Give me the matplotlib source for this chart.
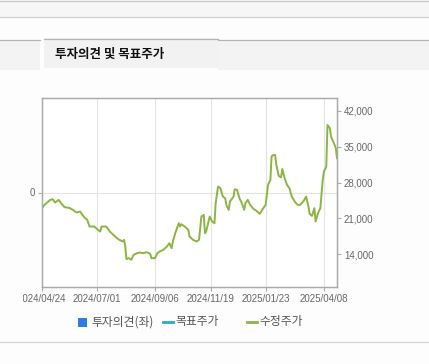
import matplotlib.pyplot as plt
from matplotlib.patches import Rectangle
from matplotlib.lines import Line2D
from matplotlib.transforms import Bbox, TransformedBbox

plt.rcParams['font.family'] = ['Liberation Sans', 'Noto Sans CJK KR']

W, H = 429, 364

# trading-day index and adjusted close price
days = [0, 2, 7, 9, 11, 14, 16, 19, 23, 26, 29, 32, 35, 38, 40, 44, 47, 49, 50, 54,
        57, 60, 63, 65, 68, 69, 70, 71, 73, 75, 77, 80, 82, 85, 88, 91, 92, 95, 97, 99,
        102, 105, 107, 109, 110, 112, 115, 116, 117, 120, 123, 124, 127, 130, 132, 134,
        136, 137, 138, 141, 143, 145, 146, 148, 150, 152, 154, 155, 157, 158, 161, 162,
        164, 166, 168, 170, 171, 173, 175, 178, 180, 183, 186, 188, 190, 192, 193, 194,
        196, 197, 199, 201, 202, 204, 206, 208, 210, 213, 215, 217, 220, 222, 224, 225,
        227, 229, 230, 232, 234, 236, 237, 239, 240, 242, 243, 244, 246, 247, 248]
price = [22970, 23620, 24600, 24730, 24080, 24600, 23950, 23165, 23035, 22645, 22125,
         22320, 21340, 20690, 19385, 19385, 18735, 18410, 19385, 19385, 18410, 17760,
         17105, 16780, 16455, 16780, 15475, 13000, 13195, 12870, 13845, 14170, 14300,
         14170, 14370, 14040, 13195, 13195, 14170, 14500, 14825, 15475, 16130, 15150,
         16455, 18080, 20040, 19385, 19840, 19385, 18735, 17430, 16780, 16455, 16780,
         21340, 21665, 18080, 18410, 21340, 20360, 20040, 23950, 27205, 26880, 25250,
         24925, 23620, 22645, 24275, 25250, 26685, 26555, 24925, 23950, 22645, 23950,
         24600, 23620, 22775, 22515, 21865, 22970, 23620, 27530, 28510, 33070, 33330,
         33395, 31440, 29290, 29030, 30660, 28835, 27530, 26880, 25250, 24080, 23620,
         23620, 24405, 25250, 23295, 21865, 21470, 22970, 20365, 21995, 22970, 28510,
         30140, 31115, 39265, 38610, 36980, 36460, 35350, 34700, 32745]

tick_days = [0, 46, 95, 142, 188, 237]
tick_labels = ['2024/04/24', '2024/07/01', '2024/09/06', '2024/11/19', '2025/01/23', '2025/04/08']
price_ticks = [14000, 21000, 28000, 35000, 42000]

legend_labels = ['투자의견(좌)', '목표주가', '수정주가']
legend_colors = ['#2f7de1', '#25aebf', '#8bb543']


def fx(x):
    return x / W


def fy(y):
    return 1 - y / H


fig = plt.figure(figsize=(W / 100, H / 100), dpi=100)
fig.patch.set_facecolor('#fdfdfd')

# page header bands
fig.patches.append(Rectangle((0, fy(17)), 1, 17 / H, transform=fig.transFigure,
                             facecolor='#f6f6f6', edgecolor='none'))
fig.patches.append(Rectangle((0, fy(70)), 1, 30 / H, transform=fig.transFigure,
                             facecolor='#f3f3f3', edgecolor='none'))
fig.patches.append(Rectangle((fx(40), fy(70)), 4 / W, 30 / H, transform=fig.transFigure,
                             facecolor='#fdfdfd', edgecolor='none'))
fig.patches.append(Rectangle((fx(44), fy(68)), 174 / W, 30 / H, transform=fig.transFigure,
                             facecolor='#f2f2f2', edgecolor='none'))
fig.patches.append(Rectangle((fx(44), fy(70)), 174 / W, 2 / H, transform=fig.transFigure,
                             facecolor='#fdfdfd', edgecolor='none'))
for y0, x0, x1, c in [(1, 0, W, '#c8c8c8'), (17, 0, W, '#cfcfcf'), (40, 0, 40, '#b4b4b4'),
                      (40, 218, W, '#b4b4b4'), (38.5, 44, 218, '#b4b4b4'), (341.5, 0, W, '#d4d4d4')]:
    fig.lines.append(Line2D([fx(x0), fx(x1)], [fy(y0), fy(y0)], transform=fig.transFigure,
                            color=c, lw=0.9))
fig.text(fx(55), fy(54), '투자의견 및 목표주가', fontsize=9, fontweight='heavy',
         family=['Noto Sans CJK KR'], va='center', ha='left', color='#111111')

# chart
ax = fig.add_axes([fx(42), fy(287), 295 / W, 189 / H])
ax.set_facecolor('white')
ax.set_ylim(-1, 1)
ax.set_yticks([0])
ax.set_yticklabels(['0'])
ax.set_xlim(0, 248)
ax.set_xticks(tick_days)
ax.set_xticklabels(tick_labels)
ax.grid(True, color='#e3e3e3', lw=0.8)
ax.set_axisbelow(True)
for s in ax.spines.values():
    s.set_color('#aaaaaa')
    s.set_linewidth(0.9)
ax.tick_params(colors='#aaaaaa', labelcolor='#666666', labelsize=7, length=3, width=0.8, pad=2)

clip = TransformedBbox(Bbox([[fx(22.5), 0], [1, 1]]), fig.transFigure)
for lab in ax.get_xticklabels():
    lab.set_clip_box(clip)
    lab.set_clip_on(True)

ax2 = ax.twinx()
ax2.set_ylim(7550, 44540)
ax2.set_yticks(price_ticks)
ax2.set_yticklabels([f'{v:,}' for v in price_ticks])
ax2.tick_params(colors='#aaaaaa', labelcolor='#666666', labelsize=7, length=3, width=0.8, pad=2)
for s in ax2.spines.values():
    s.set_color('#aaaaaa')
    s.set_linewidth(0.9)
ax2.plot(days, price, color=legend_colors[2], lw=1.4, solid_joinstyle='round')
ax2.set_xlim(0, 248)

# legend
fig.patches.append(Rectangle((fx(78), fy(327)), 9 / W, 9 / H, transform=fig.transFigure,
                             facecolor=legend_colors[0], edgecolor='none'))
fig.text(fx(91), fy(322), legend_labels[0], fontsize=8.5, family=['Noto Sans CJK KR'],
         va='center', color='#555555')
fig.lines.append(Line2D([fx(163), fx(173)], [fy(322), fy(322)], transform=fig.transFigure,
                        color=legend_colors[1], lw=2))
fig.text(fx(175), fy(322), legend_labels[1], fontsize=8.5, family=['Noto Sans CJK KR'],
         va='center', color='#555555')
fig.lines.append(Line2D([fx(247), fx(257)], [fy(322), fy(322)], transform=fig.transFigure,
                        color=legend_colors[2], lw=2))
fig.text(fx(259), fy(322), legend_labels[2], fontsize=8.5, family=['Noto Sans CJK KR'],
         va='center', color='#555555')

fig.savefig('out.png', dpi=100, facecolor=fig.get_facecolor())
